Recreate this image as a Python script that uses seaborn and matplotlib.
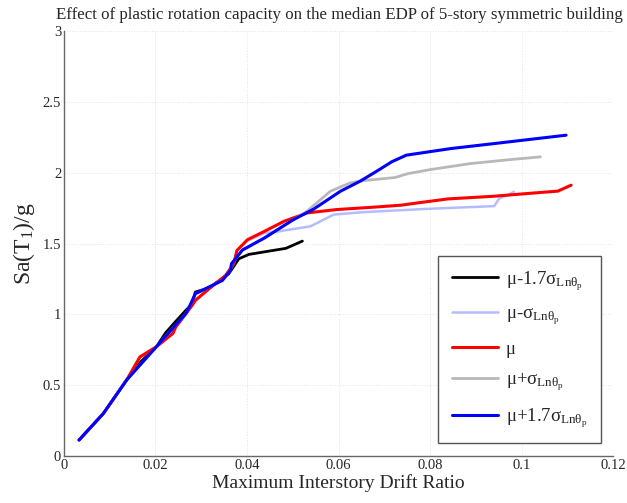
import matplotlib
matplotlib.use('Agg')
import matplotlib.pyplot as plt
import seaborn as sns

# median EDP curves (drift ratio vs Sa(T1)/g)
x_m17 = [0.0033, 0.0086, 0.0137, 0.0166, 0.0202, 0.0222, 0.0244, 0.0266, 0.0280, 0.0287,
         0.0317, 0.0360, 0.0382, 0.0404, 0.0485, 0.0521]
y_m17 = [0.113, 0.300, 0.537, 0.660, 0.772, 0.870, 0.950, 1.028, 1.075, 1.158,
         1.188, 1.287, 1.393, 1.424, 1.467, 1.518]

x_m1 = [0.0033, 0.0086, 0.0137, 0.0166, 0.0202, 0.0238, 0.0244, 0.0280, 0.0287, 0.0317,
        0.0353, 0.0371, 0.0378, 0.0401, 0.0438, 0.0466, 0.0539, 0.0589, 0.0651, 0.0795,
        0.0940, 0.0951, 0.0969, 0.0983]
y_m1 = [0.113, 0.300, 0.537, 0.700, 0.772, 0.866, 0.910, 1.064, 1.099, 1.181,
        1.275, 1.358, 1.452, 1.520, 1.575, 1.585, 1.623, 1.705, 1.722, 1.746,
        1.765, 1.819, 1.842, 1.866]

x_mu = [0.0033, 0.0086, 0.0137, 0.0166, 0.0202, 0.0238, 0.0244, 0.0280, 0.0287, 0.0317,
        0.0353, 0.0371, 0.0378, 0.0401, 0.0438, 0.0481, 0.0531, 0.0596, 0.0683, 0.0737,
        0.0773, 0.0839, 0.0940, 0.1012, 0.1079, 0.1108]
y_mu = [0.113, 0.300, 0.537, 0.700, 0.772, 0.866, 0.910, 1.064, 1.099, 1.181,
        1.275, 1.358, 1.452, 1.528, 1.587, 1.658, 1.717, 1.741, 1.759, 1.772,
        1.788, 1.816, 1.835, 1.854, 1.871, 1.913]

x_p1 = [0.0033, 0.0086, 0.0137, 0.0202, 0.0231, 0.0267, 0.0277, 0.0287, 0.0309, 0.0346,
        0.0364, 0.0366, 0.0390, 0.0438, 0.0500, 0.0531, 0.0582, 0.0625, 0.0651, 0.0723,
        0.0752, 0.0802, 0.0889, 0.0976, 0.1041]
y_p1 = [0.113, 0.300, 0.537, 0.772, 0.878, 1.008, 1.075, 1.146, 1.181, 1.240,
        1.311, 1.358, 1.455, 1.540, 1.667, 1.729, 1.870, 1.929, 1.944, 1.967,
        1.995, 2.024, 2.066, 2.094, 2.113]

x_p17 = [0.0033, 0.0086, 0.0137, 0.0202, 0.0231, 0.0267, 0.0277, 0.0287, 0.0309, 0.0346,
         0.0364, 0.0366, 0.0390, 0.0438, 0.0500, 0.0546, 0.0604, 0.0647, 0.0687, 0.0716,
         0.0748, 0.0846, 0.0940, 0.1097]
y_p17 = [0.113, 0.300, 0.537, 0.772, 0.878, 1.008, 1.075, 1.146, 1.181, 1.240,
         1.311, 1.358, 1.455, 1.540, 1.667, 1.745, 1.870, 1.941, 2.019, 2.078,
         2.125, 2.172, 2.207, 2.266]

sub = r'$_{\mathrm{Lnθ}_{\mathrm{p}}}$'
labels = ['μ-1.7σ' + sub, 'μ-σ' + sub, 'μ', 'μ+σ' + sub, 'μ+1.7σ' + sub]

sns.set_style('whitegrid')
plt.rcParams['font.family'] = ['Liberation Serif', 'DejaVu Serif']
plt.rcParams['mathtext.fontset'] = 'custom'
plt.rcParams['mathtext.rm'] = 'Liberation Serif'
plt.rcParams['mathtext.it'] = 'Liberation Serif'

fig = plt.figure(figsize=(6.27, 5.03), dpi=100)
ax = fig.add_axes([0.102, 0.0934, 0.876, 0.8444])

sns.lineplot(x=x_m17, y=y_m17, sort=False, estimator=None, color='black', lw=2.0, label=labels[0], ax=ax)
sns.lineplot(x=x_m1, y=y_m1, sort=False, estimator=None, color='#b4bcff', lw=1.8, label=labels[1], ax=ax)
sns.lineplot(x=x_mu, y=y_mu, sort=False, estimator=None, color='#ff0000', lw=2.2, label=labels[2], ax=ax)
sns.lineplot(x=x_p1, y=y_p1, sort=False, estimator=None, color='#b8b8b8', lw=2.0, label=labels[3], ax=ax)
sns.lineplot(x=x_p17, y=y_p17, sort=False, estimator=None, color='#0000ff', lw=2.2, label=labels[4], ax=ax)

ax.set_xlim(0, 0.12)
ax.set_ylim(0, 3)
ax.set_xticks([0, 0.02, 0.04, 0.06, 0.08, 0.1, 0.12])
ax.set_xticklabels(['0', '0.02', '0.04', '0.06', '0.08', '0.1', '0.12'])
ax.set_yticks([0, 0.5, 1, 1.5, 2, 2.5, 3])
ax.set_yticklabels(['0', '0.5', '1', '1.5', '2', '2.5', '3'])
ax.grid(True, color='#e2e2e2', lw=0.7, ls=':')
for s in ['top', 'right']:
    ax.spines[s].set_visible(False)
for s in ['left', 'bottom']:
    ax.spines[s].set_color('#666666')
    ax.spines[s].set_linewidth(1.0)
ax.tick_params(direction='in', length=4, width=0.8, color='#666666', labelsize=10.5, pad=2)

fig.text(0.542, 0.97, 'Effect of plastic rotation capacity on the median EDP of 5-story symmetric building',
         fontsize=12.2, ha='center', va='center')
ax.set_xlabel('Maximum Interstory Drift Ratio', fontsize=14, labelpad=2)
ax.set_ylabel(r'Sa(T$_{\mathrm{1}}$)/g', fontsize=17, labelpad=4)

leg = ax.legend(loc='lower right', bbox_to_anchor=(0.977, 0.03), borderaxespad=0,
                fontsize=13.5, labelspacing=0.7, handlelength=2.5, handletextpad=0.4,
                fancybox=False, framealpha=1, edgecolor='#555555', borderpad=0.7)
leg.get_frame().set_linewidth(1.0)

plt.savefig('out.png', dpi=100)
